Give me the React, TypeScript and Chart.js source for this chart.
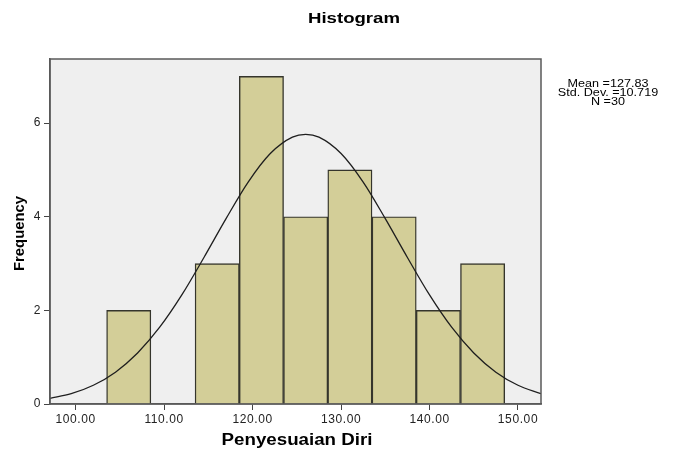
import React, { useEffect, useRef } from "react";
import { Chart, registerables } from "chart.js";

Chart.register(...registerables);

// Histogram bins (centres) and frequencies
const binCenters = [106, 111, 116, 121, 126, 131, 136, 141, 146];
const frequencies = [2, 0, 3, 7, 4, 5, 4, 2, 3];

// Normal curve
const curveX = [97.1, 99.5, 102, 104.5, 107, 109.5, 112, 114.5, 117, 119.5, 122, 124.5, 126, 127.5, 130, 132.5, 135, 137.5, 140, 142.5, 145, 147.5, 150, 152.6];
const curveY = [0.12, 0.22, 0.4, 0.68, 1.09, 1.64, 2.33, 3.13, 3.96, 4.74, 5.35, 5.7, 5.76, 5.7, 5.35, 4.74, 3.96, 3.13, 2.33, 1.64, 1.09, 0.68, 0.4, 0.22];

const statLines = ["Mean =127.83", "Std. Dev. =10.719", "N =30"];
const chartTitle = "Histogram";
const xTitle = "Penyesuaian Diri";
const yTitle = "Frequency";

const FONT = "'Liberation Sans', Arial, sans-serif";

function wideText(ctx: any, text: string, cx: number, cy: number, font: string, sx: number, rot = 0) {
  ctx.save();
  ctx.translate(cx, cy);
  if (rot) ctx.rotate(rot);
  ctx.scale(sx, 1);
  ctx.font = font;
  ctx.letterSpacing = "0px";
  ctx.textAlign = "center";
  ctx.textBaseline = "middle";
  ctx.fillStyle = "#000";
  ctx.fillText(text, 0, 0);
  ctx.restore();
}

export default function App() {
  const ref = useRef<HTMLCanvasElement | null>(null);

  useEffect(() => {
    document.body.style.margin = "0";
    const canvas = ref.current;
    if (!canvas) return;

    const decor = {
      id: "decor",
      beforeDraw(chart: any) {
        const { ctx, chartArea: a } = chart;
        (ctx as any).letterSpacing = "0.6px";
        ctx.save();
        ctx.fillStyle = "#efefef";
        ctx.fillRect(a.left, a.top, a.right - a.left, a.bottom - a.top);
        ctx.restore();
      },
      afterDraw(chart: any) {
        const { ctx, chartArea: a } = chart;
        ctx.save();
        ctx.strokeStyle = "#5a5a5a";
        ctx.lineWidth = 1.5;
        ctx.strokeRect(a.left, a.top, a.right - a.left, a.bottom - a.top);
        ctx.restore();
        wideText(ctx, chartTitle, 354, 18.5, `bold 15.5px ${FONT}`, 1.2);
        wideText(ctx, xTitle, 297, 441, `bold 16px ${FONT}`, 1.17);
        wideText(ctx, yTitle, 20.5, 233.5, `bold 14px ${FONT}`, 1.06, -Math.PI / 2);
        statLines.forEach((t, i) => wideText(ctx, t, 608, 84.2 + i * 9, `10px ${FONT}`, 1.26));
        (ctx as any).letterSpacing = "0px";
      },
    };

    const chart = new Chart(canvas, {
      type: "bar",
      data: {
        datasets: [
          {
            type: "line",
            data: curveX.map((x, i) => ({ x, y: curveY[i] })),
            borderColor: "#1e1e1e",
            borderWidth: 1.3,
            pointRadius: 0,
            tension: 0.4,
            cubicInterpolationMode: "monotone",
            order: 0,
          } as any,
          {
            type: "bar",
            data: binCenters.map((x, i) => ({ x, y: frequencies[i] })),
            backgroundColor: "#d3ce98",
            borderColor: "#35352c",
            borderWidth: 1.4,
            barPercentage: 1,
            categoryPercentage: 1,
            grouped: false,
            order: 1,
          } as any,
        ],
      },
      options: {
        responsive: false,
        animation: false,
        events: [],
        layout: { padding: { top: 59, right: 137, left: 0, bottom: 0 } },
        plugins: { legend: { display: false }, tooltip: { enabled: false }, title: { display: false } },
        scales: {
          x: {
            type: "linear",
            min: 97.1,
            max: 152.6,
            offset: false,
            grid: { drawOnChartArea: false, drawTicks: true, tickLength: 6, color: "#444", offset: false },
            border: { display: true, color: "#5a5a5a", width: 1.5 },
            ticks: {
              stepSize: 10,
              includeBounds: false,
              padding: 2,
              color: "#222",
              font: { family: FONT, size: 12 },
              callback: (v: any) => Number(v).toFixed(2),
              maxRotation: 0,
            },
            afterFit: (s: any) => {
              s.height = 46;
            },
          },
          y: {
            type: "linear",
            min: 0,
            max: 7.37,
            grid: { drawOnChartArea: false, drawTicks: true, tickLength: 6, color: "#444" },
            border: { display: true, color: "#5a5a5a", width: 1.5 },
            ticks: {
              stepSize: 2,
              includeBounds: false,
              padding: 3,
              color: "#222",
              font: { family: FONT, size: 12 },
            },
            afterFit: (s: any) => {
              s.width = 50;
            },
          },
        },
      },
      plugins: [decor],
    });

    return () => chart.destroy();
  }, []);

  return (
    <div style={{ width: 678, height: 450, background: "#fff" }}>
      <canvas ref={ref} width={678} height={450} />
    </div>
  );
}
